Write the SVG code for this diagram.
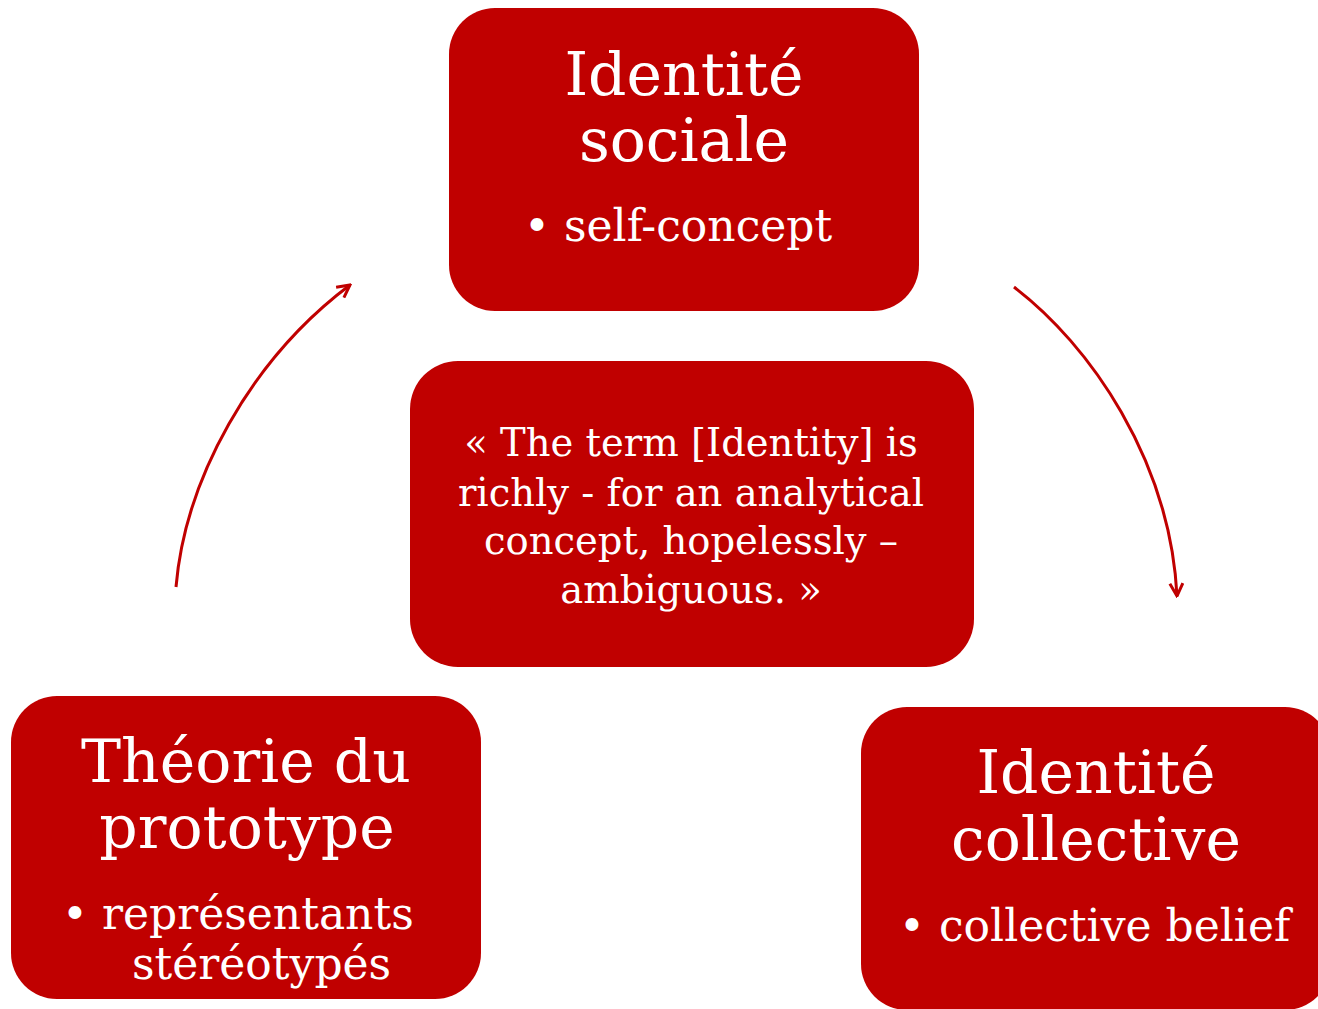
<svg xmlns="http://www.w3.org/2000/svg" width="1318" height="1009" viewBox="0 0 1318 1009">
<style>
.box{fill:#C00000;}
.t{font-family:"DejaVu Serif","Liberation Serif",serif;fill:#FFFFFF;}
.title{font-size:60px;text-anchor:middle;}
.bul{font-size:44px;}
.quote{font-size:38.5px;text-anchor:middle;}
.conn{fill:none;stroke:#C00000;stroke-width:3;}
</style>
<defs>
<marker id="arr" viewBox="0 0 16 16" refX="14.5" refY="8" markerWidth="16" markerHeight="16" markerUnits="userSpaceOnUse" orient="auto">
<path d="M2,1.5 L14.5,8 L2,14.5" fill="none" stroke="#C00000" stroke-width="3"/>
</marker>
</defs>
<rect width="1318" height="1009" fill="#FFFFFF"/>
<g id="connectors">
<path class="conn" d="M176,587 C185,480 250,360 350,285" marker-end="url(#arr)"/>
<path class="conn" d="M1014,287 C1090,345 1170,460 1177,596" marker-end="url(#arr)"/>
</g>
<g id="node-identite-sociale">
<rect class="box" x="449" y="8" width="470" height="303" rx="46" ry="46"/>
<text class="t title" x="684" y="95">Identité</text>
<text class="t title" x="684" y="161">sociale</text>
<text class="t bul" x="524" y="241">• self-concept</text>
</g>
<g id="node-quote">
<rect class="box" x="410" y="361" width="564" height="306" rx="48" ry="48"/>
<text class="t quote" x="691" y="456">« The term [Identity] is</text>
<text class="t quote" x="691" y="506">richly - for an analytical</text>
<text class="t quote" x="691" y="554">concept, hopelessly –</text>
<text class="t quote" x="691" y="603">ambiguous. »</text>
</g>
<g id="node-theorie-prototype">
<rect class="box" x="11" y="696" width="470" height="303" rx="46" ry="46"/>
<text class="t title" x="246" y="782">Théorie du</text>
<text class="t title" x="247" y="848">prototype</text>
<text class="t bul" x="62" y="929">• représentants</text>
<text class="t bul" x="132" y="979">stéréotypés</text>
</g>
<g id="node-identite-collective">
<rect class="box" x="861" y="707" width="470" height="303" rx="46" ry="46"/>
<text class="t title" x="1096" y="793">Identité</text>
<text class="t title" x="1096" y="860">collective</text>
<text class="t bul" x="899" y="941">• collective belief</text>
</g>
</svg>
